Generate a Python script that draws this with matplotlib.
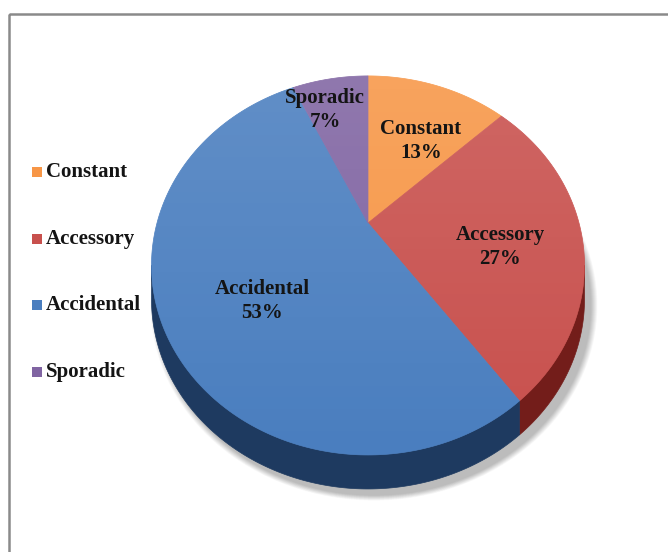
import numpy as np
import matplotlib.pyplot as plt
from matplotlib.patches import Polygon, Rectangle, Ellipse

categories = ['Constant', 'Accessory', 'Accidental', 'Sporadic']
values = [13, 27, 53, 7]
top_colors = ['#F79646', '#C8504D', '#4A7EBF', '#8064A2']
side_colors = ['#9C5210', '#731D1A', '#1E3A60', '#4A3466']

plt.rcParams['font.family'] = ['Liberation Serif', 'DejaVu Serif']

fig = plt.figure(figsize=(6.68, 5.52), dpi=100)
ax = fig.add_axes([0, 0, 1, 1])
ax.set_xlim(0, 668)
ax.set_ylim(552, 0)
ax.axis('off')

# outer frame
ax.add_patch(Rectangle((9, 14), 700, 600, fill=False, edgecolor='#8a8a8a', lw=1.8))

# pie seen in perspective: disc centre, half-width, half-depth, tilt, thickness
cx, cy, a, b, k, depth = 368, 223, 211, 180, 0.224, 34


def proj(t_deg, dy=0):
    t = np.radians(np.atleast_1d(t_deg))
    d = 1 + k * np.sin(t)
    return np.column_stack([cx + a * np.cos(t) / d, cy + dy - b * np.sin(t) / d])


def arc(t0, t1, dy=0, n=240):
    return proj(np.linspace(t0, t1, n), dy)


fractions = np.array(values) / sum(values)
ends = 90 - 360 * np.cumsum(fractions)
starts = ends + 360 * fractions

# the side wall is visible between the two vertical tangents of the rim
t_side = np.degrees(np.arcsin(-k))
side_lo, side_hi = -180 - t_side, t_side

# soft shadow under the pie
rim = arc(0, 360)
ex, ey = rim[:, 0], rim[:, 1]
ecx, ecy = (ex.max() + ex.min()) / 2, (ey.max() + ey.min()) / 2
ew, eh = ex.max() - ex.min(), ey.max() - ey.min()
for i in range(14):
    grow = 14 - i
    ax.add_patch(Ellipse((ecx + 6, ecy + depth + 6), ew + grow, eh + grow * 0.8,
                         facecolor='black', edgecolor='none', alpha=0.018, zorder=1))

# front side of the pie
for s, e, c in zip(starts, ends, side_colors):
    for off in (0, -360):
        lo, hi = max(e, side_lo + off), min(s, side_hi + off)
        if lo < hi:
            pts = np.vstack([arc(hi, lo), arc(lo, hi, dy=depth)])
            ax.add_patch(Polygon(pts, closed=True, facecolor=c, edgecolor=c, lw=0.5, zorder=2))

# top face
for s, e, c in zip(starts, ends, top_colors):
    pts = np.vstack([[cx, cy], arc(s, e)])
    ax.add_patch(Polygon(pts, closed=True, facecolor=c, edgecolor=c, lw=0.5, zorder=3))

# light from above: fade a white sheen over the top face
top_outline = Polygon(rim, closed=True, facecolor='none', edgecolor='none')
ax.add_patch(top_outline)
grad = np.linspace(1, 0, 256)[:, None] * np.ones((1, 2))
sheen = np.zeros((256, 2, 4))
sheen[..., :3] = 1
sheen[..., 3] = 0.13 * grad
img = ax.imshow(sheen, extent=(ex.min(), ex.max(), ey.max(), ey.min()),
                aspect='auto', zorder=4, interpolation='bilinear')
img.set_clip_path(top_outline)
ax.set_xlim(0, 668)
ax.set_ylim(552, 0)

# slice labels
label_pos = [(421, 141), (500, 247), (262, 301), (325, 110)]
for name, v, (x, y) in zip(categories, values, label_pos):
    ax.text(x, y, f'{name}\n{v}%', ha='center', va='center', fontsize=15,
            fontweight='bold', color='#141414', linespacing=1.25, zorder=5)

# legend
for i, (name, c) in enumerate(zip(categories, top_colors)):
    y = 172 + i * 66.7
    ax.add_patch(Rectangle((32, y - 5), 10, 10, facecolor=c, edgecolor='none'))
    ax.text(46, y, name, ha='left', va='center', fontsize=15, fontweight='bold',
            color='#141414')

fig.savefig('out.png', dpi=100)
